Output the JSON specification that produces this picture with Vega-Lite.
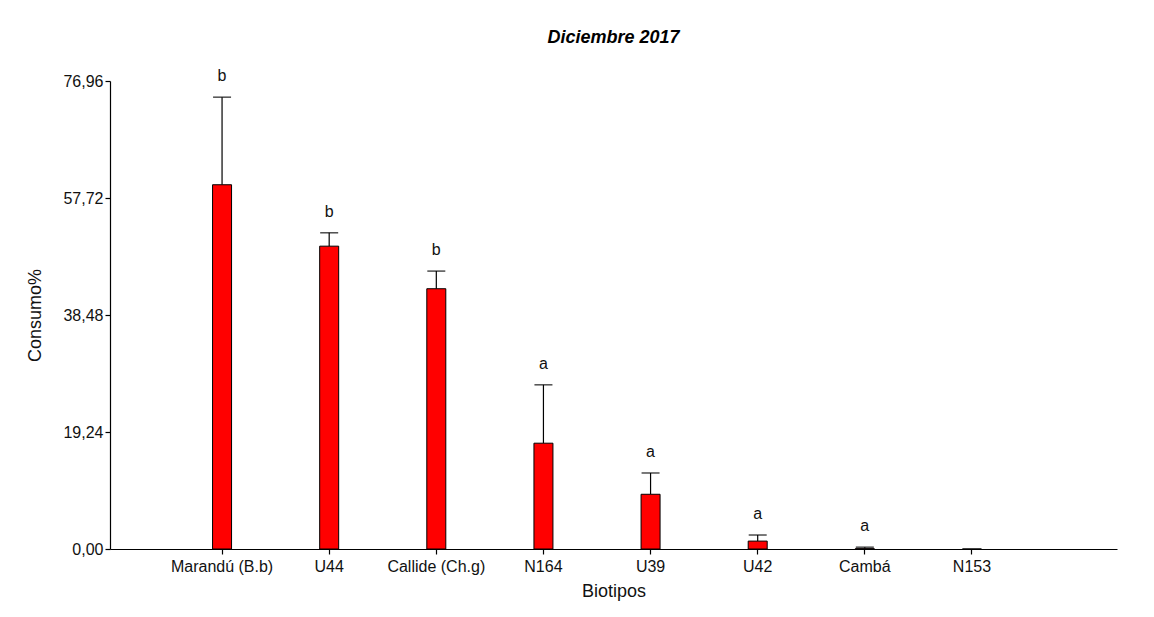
{
  "$schema": "https://vega.github.io/schema/vega-lite/v6.json",
  "width": 1007,
  "height": 468,
  "autosize": {"type": "none"},
  "padding": {"left": 110, "top": 81, "right": 37, "bottom": 68},
  "background": "white",
  "title": {"text": "Diciembre 2017", "font": "Liberation Sans", "fontSize": 18, "fontWeight": "bold", "fontStyle": "italic", "color": "black", "anchor": "middle", "offset": 21},
  "config": {
    "view": {"stroke": null},
    "axis": {"labelFont": "Liberation Sans", "titleFont": "Liberation Sans", "labelFontSize": 16, "titleFontSize": 18, "titleFontWeight": "normal", "labelColor": "#111", "titleColor": "#111", "domainColor": "black", "tickColor": "black", "grid": false, "domainWidth": 1.2, "tickWidth": 1.2}
  },
  "data": {"values": [
    {"biotipo": "Marandú (B.b)", "consumo": 59.9, "err": 74.3, "letra": "b"},
    {"biotipo": "U44", "consumo": 49.8, "err": 52.0, "letra": "b"},
    {"biotipo": "Callide (Ch.g)", "consumo": 42.8, "err": 45.7, "letra": "b"},
    {"biotipo": "N164", "consumo": 17.4, "err": 27.0, "letra": "a"},
    {"biotipo": "U39", "consumo": 9.0, "err": 12.5, "letra": "a"},
    {"biotipo": "U42", "consumo": 1.3, "err": 2.3, "letra": "a"},
    {"biotipo": "Cambá", "consumo": 0.05, "err": 0.3, "letra": "a"},
    {"biotipo": "N153", "consumo": 0, "err": null, "letra": ""}
  ]},
  "encoding": {
    "x": {"field": "biotipo", "type": "nominal", "sort": null,
      "scale": {"paddingInner": 0.6, "paddingOuter": 1, "align": 0.423},
      "axis": {"title": "Biotipos", "labelAngle": 0, "tickSize": 5, "labelPadding": 4, "titlePadding": 8}}
  },
  "layer": [
    {"mark": {"type": "rule", "color": "black", "strokeWidth": 1.2},
     "encoding": {"y": {"field": "consumo", "type": "quantitative"}, "y2": {"field": "err"}}},
    {"mark": {"type": "bar", "color": "#FF0000", "stroke": "black", "strokeWidth": 1, "width": 19},
     "encoding": {"y": {"field": "consumo", "type": "quantitative",
       "scale": {"domain": [0, 76.96], "nice": false, "zero": true},
       "axis": {"title": "Consumo%", "values": [0, 19.24, 38.48, 57.72, 76.96], "labelExpr": "replace(format(datum.value, '.2f'), '.', ',')", "tickSize": 5, "labelPadding": 2, "titlePadding": 18}}}},
    {"mark": {"type": "tick", "color": "black", "size": 18, "thickness": 1.5, "orient": "horizontal"},
     "encoding": {"y": {"field": "err", "type": "quantitative"}}},
    {"mark": {"type": "text", "font": "Liberation Sans", "fontSize": 16, "color": "#111", "baseline": "alphabetic", "dy": -16},
     "encoding": {"y": {"field": "err", "type": "quantitative"}, "text": {"field": "letra"}}}
  ]
}
